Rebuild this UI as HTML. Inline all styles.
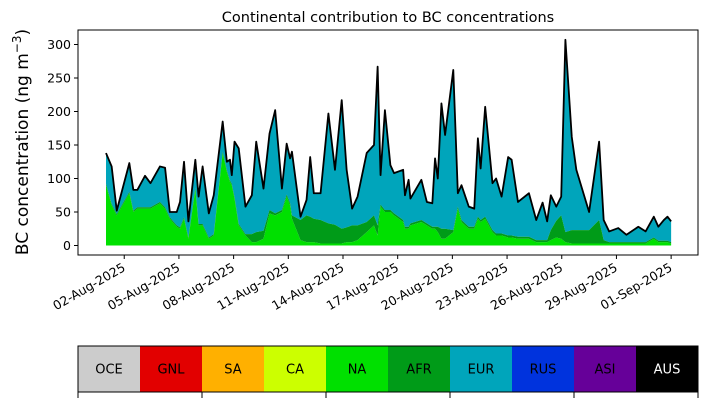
<!DOCTYPE html>
<html><head><meta charset="utf-8"><style>
body{margin:0;background:#fff;width:707px;height:402px;overflow:hidden;font-family:"Liberation Sans","DejaVu Sans",sans-serif}
svg text{font-family:"DejaVu Sans","Liberation Sans",sans-serif}
</style></head><body>
<svg id="chart" width="707" height="402" xmlns="http://www.w3.org/2000/svg"></svg>
<script>
const times=[0,0.31,0.59,1.28,1.5,1.72,2.14,2.44,2.96,3.24,3.5,3.88,4.06,4.28,4.52,4.9,5.08,5.3,5.64,5.91,6.4,6.63,6.8,6.9,7.05,7.28,7.65,8.0,8.24,8.64,8.97,9.28,9.65,9.91,10.1,10.2,10.67,11.0,11.2,11.4,11.77,12.2,12.56,12.93,13.2,13.5,13.8,14.3,14.7,14.9,15.06,15.3,15.6,15.8,16.3,16.4,16.6,16.7,17.3,17.6,17.9,18.05,18.2,18.4,18.6,19.05,19.3,19.5,19.9,20.2,20.4,20.55,20.8,21.2,21.4,21.7,22.06,22.25,22.6,23.2,23.6,23.95,24.2,24.4,24.7,24.97,25.2,25.55,25.8,26.5,27.05,27.3,27.6,28.1,28.55,29.2,29.6,30.05,30.3,30.6,30.8,31.0];
const total=[138,118,52,123,83,83,104,93,118,116,50,50,65,125,36,128,73,118,48,75,185,125,128,105,155,145,58,75,155,85,167,202,85,152,130,140,43,68,132,78,78,197,113,217,113,55,73,138,150,267,105,202,120,108,113,75,98,70,98,65,63,130,100,212,165,262,78,90,58,55,160,115,207,93,100,73,132,128,65,78,38,64,36,75,58,73,307,162,113,50,155,38,21,26,16,28,21,43,28,38,43,36];
const naVals=[90,60,45,78,50,55,55,55,63,55,40,28,25,40,10,84,30,30,10,15,138,110,95,90,70,30,15,5,5,10,48,45,50,73,60,40,8,5,5,5,3,3,3,3,5,5,8,20,30,15,58,50,50,45,35,25,25,30,35,30,25,25,20,10,10,20,55,35,25,25,40,35,40,20,15,15,12,12,10,10,5,5,5,8,12,10,5,3,3,3,3,3,3,3,3,3,3,10,5,5,5,3];
const afrVals=[2,2,2,2,2,2,2,2,2,2,2,2,2,2,2,2,2,2,2,2,2,2,2,2,2,2,2,12,15,12,5,3,3,3,3,5,30,40,38,35,35,30,28,22,22,25,22,15,15,15,3,3,3,3,3,3,3,3,3,3,3,3,8,15,15,3,3,3,3,3,3,3,3,3,3,3,3,3,3,3,3,3,3,15,25,35,15,20,20,20,35,5,2,2,2,2,2,2,2,2,2,2];
const yTicks=[0,50,100,150,200,250,300];
const xTickLabels=["02-Aug-2025","05-Aug-2025","08-Aug-2025","11-Aug-2025","14-Aug-2025","17-Aug-2025","20-Aug-2025","23-Aug-2025","26-Aug-2025","29-Aug-2025","01-Sep-2025"];
const xTickDays=[1,4,7,10,13,16,19,22,25,28,31];
const regions=["OCE","GNL","SA","CA","NA","AFR","EUR","RUS","ASI","AUS"];
const regionColors=["#cccccc","#e20000","#ffb000","#ccff00","#00e000","#009b18","#00a5bb","#0033dd","#660099","#000000"];

const NS="http://www.w3.org/2000/svg";
const svg=document.getElementById('chart');
const L=78,R=698,T=30,B=255;
const xs=d=>106+d*18.23;
const ys=v=>245.5-v*0.67;
function mk(tag,attrs,parent){const e=document.createElementNS(NS,tag);for(const k in attrs)e.setAttribute(k,attrs[k]);(parent||svg).appendChild(e);return e;}

const title=mk('text',{x:388,y:22,'text-anchor':'middle','font-size':14.5,fill:'#000'});
title.textContent='Continental contribution to BC concentrations';



const ylab=mk('text',{x:28,y:142,'text-anchor':'middle','font-size':17,transform:'rotate(-90 28 142)'});
ylab.innerHTML='BC concentration (ng m<tspan dy="-7" font-size="12">−3</tspan><tspan dy="7">)</tspan>';



// stacked areas
const lower0=times.map(()=>0);
const lower1=naVals.slice();
const lower2=naVals.map((v,i)=>v+afrVals[i]);
function area(lo,hi,color,name){
  let d='M'+times.map((t,i)=>xs(t)+','+ys(hi[i])).join('L');
  for(let i=times.length-1;i>=0;i--)d+='L'+xs(times[i])+','+ys(lo[i]);
  const p=mk('path',{d:d+'Z',fill:color});
  
  
}
const eurTop=total.map((v,i)=>Math.max(v,lower2[i]));
area(lower2,eurTop,regionColors[6],'area-eur');
area(lower0,lower1,regionColors[4],'area-na');
area(lower1,lower2,regionColors[5],'area-afr');
const line=mk('path',{d:'M'+times.map((t,i)=>xs(t)+','+ys(eurTop[i])).join('L'),fill:'none',stroke:'#000','stroke-width':1.8,'stroke-linejoin':'round'});



const frame=mk('rect',{x:L,y:T,width:R-L,height:B-T,fill:'none',stroke:'#000','stroke-width':1});



yTicks.forEach(v=>{
  mk('line',{x1:L-4,x2:L,y1:ys(v),y2:ys(v),stroke:'#000'});
  const t=mk('text',{x:L-7,y:ys(v)+4.5,'text-anchor':'end','font-size':12.5});
  t.textContent=v;
  
  
});
xTickDays.forEach((d,i)=>{
  const x=xs(d);
  mk('line',{x1:x,x2:x,y1:B,y2:B+4,stroke:'#000'});
  const t=mk('text',{x:x+2,y:B+15,'text-anchor':'end','font-size':12.5,transform:`rotate(-30 ${x+2} ${B+15})`});
  t.textContent=xTickLabels[i];
  
  
});

// colorbar legend
const cw=(R-L)/regions.length;
regions.forEach((r,i)=>{
  const rc=mk('rect',{x:L+i*cw,y:346,width:cw+0.5,height:46,fill:regionColors[i]});
  
  
  const t=mk('text',{x:L+i*cw+cw/2,y:373.5,'text-anchor':'middle','font-size':13,fill:i===9?'#fff':'#000'});
  t.textContent=r;
  
  
});
mk('rect',{x:L,y:346,width:R-L,height:46,fill:'none',stroke:'#000'});
for(let i=0;i<=10;i+=2){mk('line',{x1:L+i*cw,x2:L+i*cw,y1:392,y2:398,stroke:'#000'});}
</script>
</body></html>
